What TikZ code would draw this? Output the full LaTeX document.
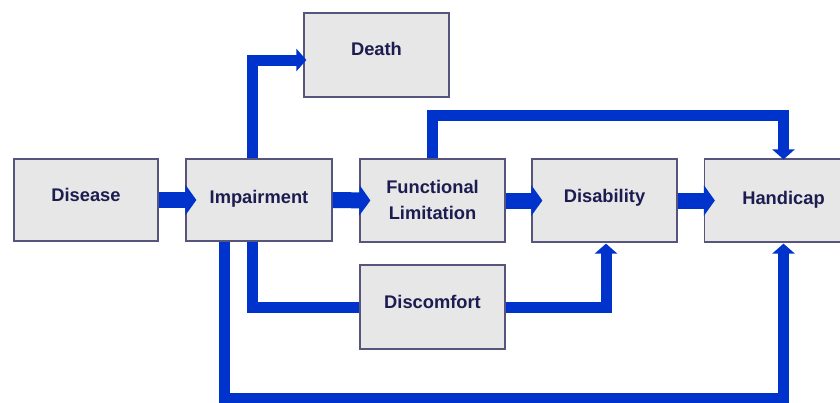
\documentclass[tikz,border=0pt]{standalone}
\usepackage{fontspec}
\setmainfont{Liberation Sans}
\usetikzlibrary{arrows.meta}
\definecolor{flowblue}{RGB}{0,51,204}
\definecolor{boxfill}{RGB}{231,231,231}
\definecolor{boxline}{RGB}{85,85,125}
\definecolor{txtcol}{RGB}{28,28,80}
\begin{document}
\begin{tikzpicture}[x=1pt,y=-1pt,
  box/.style={draw=boxline, line width=1.2pt, fill=boxfill, inner sep=0pt,
              minimum width=145pt, minimum height=83pt},
  lbl/.style={font=\bfseries\fontsize{18.3}{26}\selectfont, text=txtcol, align=center},
  conn/.style={draw=flowblue, line width=11pt},
  bigarrow/.style={draw=flowblue, line width=16pt, -{Triangle[length=11pt,width=30pt]}},
  thinarrow/.style={conn, -{Triangle[length=10pt,width=22pt]}}]
\useasboundingbox (0,0) rectangle (840,402);
% boxes
\node[box, minimum width=144pt, minimum height=82pt, label={[lbl,yshift=5pt]center:Disease}] (dis) at (86,200) {};
\node[box, minimum width=146pt, minimum height=82pt, label={[lbl,yshift=1pt]center:Impairment}] (imp) at (259,200) {};
\node[box, label={[lbl,yshift=1pt]center:Functional\\Limitation}] (fl) at (432.5,200.5) {};
\node[box, label={[lbl,yshift=3pt]center:Disability}] (disab) at (604.5,200.5) {};
\node[box, minimum width=158pt, label={[lbl,yshift=1pt]center:Handicap}] (hand) at (783.5,200.5) {};
\node[box, minimum height=84pt, label={[lbl,yshift=6pt]center:Death}] (death) at (376.5,55) {};
\node[box, minimum height=84pt, label={[lbl,yshift=5pt]center:Discomfort}] (disc) at (432.5,307) {};
% helper coordinates
\coordinate (topline) at (600,115);
\coordinate (botline) at (500,398);
% main chain
\draw[bigarrow] (dis.east) -- ([xshift=11pt]imp.west);
\draw[bigarrow] (imp.east) -- ([xshift=11pt]fl.west);
\draw[bigarrow] (fl.east) -- ([xshift=11pt]disab.west);
\draw[bigarrow] (disab.east) -- ([xshift=11pt]hand.west);
% death
\draw[thinarrow] ([xshift=-7pt]imp.north) |- ([xshift=3pt,yshift=-5pt]death.west);
% functional limitation -> handicap (top)
\draw[thinarrow] (fl.north) |- (topline) -| ([yshift=-1pt]hand.north);
% impairment -> discomfort -> disability
\draw[conn] ([xshift=-7pt]imp.south) |- (disc.west);
\draw[thinarrow] (disc.east) -| ([xshift=1.5pt,yshift=-1pt]disab.south);
% impairment -> handicap (bottom loop)
\draw[thinarrow] ([xshift=-35pt]imp.south) |- (botline) -| ([yshift=-1pt]hand.south);
\end{tikzpicture}
\end{document}
